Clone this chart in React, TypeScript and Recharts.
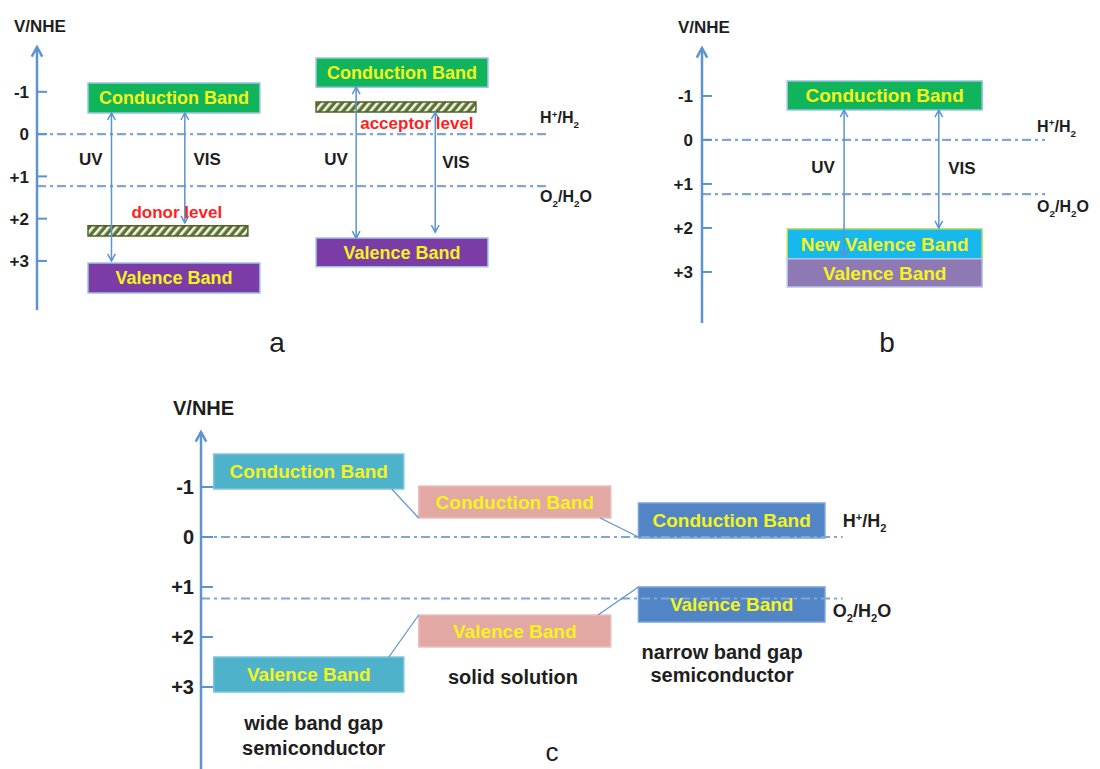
import React from "react";
import {
  ComposedChart,
  XAxis,
  YAxis,
  ReferenceArea,
  ReferenceLine,
  Scatter,
} from "recharts";

// potential scale (V vs NHE), drawn with positive values downwards
const POTENTIAL_TICKS = [-1, 0, 1, 2, 3];
const TICK_LABELS = ["-1", "0", "+1", "+2", "+3"];
const H_LEVEL = 0; // H+/H2
const O_LEVEL = 1.23; // O2/H2O

// horizontal position is in arbitrary units 0..100 across each panel

// ---- panel a : doping levels ----
const bandsA = [
  { name: "Conduction Band", kind: "green", from: 8.9, to: 38.9, top: -1.21, bottom: -0.5 },
  { name: "Valence Band", kind: "purple", from: 8.9, to: 38.9, top: 3.05, bottom: 3.76 },
  { name: "Conduction Band", kind: "green", from: 48.7, to: 78.7, top: -1.8, bottom: -1.11 },
  { name: "Valence Band", kind: "purple", from: 48.7, to: 78.7, top: 2.46, bottom: 3.14 },
];
const levelsA = [
  { from: 8.9, to: 36.8, top: 2.17, bottom: 2.41 },
  { from: 48.7, to: 76.6, top: -0.76, bottom: -0.52 },
];
const arrowsA = [
  { x: 13.0, from: -0.5, to: 3.0 },
  { x: 25.8, from: -0.5, to: 2.1 },
  { x: 55.7, from: -1.11, to: 2.46 },
  { x: 69.5, from: -0.52, to: 2.32 },
];
const lightLabelsA = [
  { x: 9.4, y: 0.59, text: "UV" },
  { x: 29.7, y: 0.59, text: "VIS" },
  { x: 52.2, y: 0.59, text: "UV" },
  { x: 73.1, y: 0.66, text: "VIS" },
];
const levelLabelsA = [
  { x: 24.4, y: 1.84, text: "donor level" },
  { x: 66.3, y: -0.26, text: "acceptor level" },
];
const redoxEndA = 89.5;
const redoxLabelsA = [
  { x: 87.8, y: -0.26, formula: "H" },
  { x: 87.8, y: 1.61, formula: "O" },
];

// ---- panel b : new valence band ----
const bandsB = [
  { name: "Conduction Band", kind: "green", from: 21.4, to: 70.4, top: -1.34, bottom: -0.68 },
  { name: "New Valence Band", kind: "sky", from: 21.4, to: 70.4, top: 2.02, bottom: 2.7 },
  { name: "Valence Band", kind: "lavender", from: 21.4, to: 70.4, top: 2.7, bottom: 3.34 },
];
const arrowsB = [
  { x: 35.7, from: -0.68, to: 2.66 },
  { x: 59.5, from: -0.68, to: 2.0 },
];
const lightLabelsB = [
  { x: 30.4, y: 0.61, text: "UV" },
  { x: 65.3, y: 0.64, text: "VIS" },
];
const redoxEndB = 86.2;
const redoxLabelsB = [
  { x: 84.2, y: -0.18, formula: "H" },
  { x: 84.2, y: 1.64, formula: "O" },
];

// ---- panel c : solid solution ----
const bandsC = [
  { name: "Conduction Band", kind: "teal", from: 1.8, to: 28.6, top: -1.66, bottom: -0.96 },
  { name: "Valence Band", kind: "teal", from: 1.8, to: 28.6, top: 2.4, bottom: 3.1 },
  { name: "Conduction Band", kind: "pink", from: 30.7, to: 57.8, top: -1.02, bottom: -0.38 },
  { name: "Valence Band", kind: "pink", from: 30.7, to: 57.8, top: 1.56, bottom: 2.2 },
  { name: "Conduction Band", kind: "blue", from: 61.7, to: 88.0, top: -0.68, bottom: 0.02 },
  { name: "Valence Band", kind: "blue", from: 61.7, to: 88.0, top: 1.0, bottom: 1.7 },
];
const connectorsC = [
  { x1: 26.9, y1: -0.96, x2: 30.7, y2: -0.38 },
  { x1: 56.3, y1: -0.38, x2: 61.7, y2: 0.0 },
  { x1: 26.5, y1: 2.4, x2: 30.7, y2: 1.56 },
  { x1: 56.0, y1: 1.56, x2: 61.7, y2: 1.0 },
];
const captionsC = [
  { x: 15.9, y: 3.72, text: "wide band gap" },
  { x: 15.9, y: 4.22, text: "semiconductor" },
  { x: 44.0, y: 2.8, text: "solid solution" },
  { x: 73.5, y: 2.3, text: "narrow band gap" },
  { x: 73.5, y: 2.76, text: "semiconductor" },
];
const redoxEndC = 90.5;
const redoxLabelsC = [
  { x: 90.5, y: -0.2, formula: "H" },
  { x: 89.1, y: 1.6, formula: "O" },
];

// sub/superscript pieces for the two redox couples
const FORMULAS: Record<string, [string, string][]> = {
  H: [["H", ""], ["+", "sup"], ["/H", ""], ["2", "sub"]],
  O: [["O", ""], ["2", "sub"], ["/H", ""], ["2", "sub"], ["O", ""]],
};

const FONT = "'Liberation Sans', Arial, Helvetica, sans-serif";
const AXIS_BLUE = "#5b93d3";
const DASH_BLUE = "#7fa6da";
const TEXT = "#1e1e1e";
const BAND_TEXT = "#f4f41c";

const FILLS: Record<string, { fill: string; stroke: string }> = {
  green: { fill: "#10b45a", stroke: "#9cc2e6" },
  purple: { fill: "#7c3ca6", stroke: "#9cc2e6" },
  sky: { fill: "#16b8ee", stroke: "#c8e05a" },
  lavender: { fill: "#8e79b4", stroke: "#b6c8e6" },
  teal: { fill: "#4eb2ca", stroke: "#7cc6da" },
  pink: { fill: "#e2a8a3", stroke: "#ecc0bc" },
  blue: { fill: "#5285c5", stroke: "#7aa2d6" },
};

function arrowHead(tx: number, ty: number, fx: number, fy: number, size: number) {
  const a = Math.atan2(ty - fy, tx - fx);
  const w = 0.5;
  const p1 = [tx - size * Math.cos(a - w), ty - size * Math.sin(a - w)];
  const p2 = [tx - size * Math.cos(a + w), ty - size * Math.sin(a + w)];
  return `${p1[0]},${p1[1]} ${tx},${ty} ${p2[0]},${p2[1]}`;
}

const arrowShape =
  (both: boolean, width: number, size: number) =>
  (p: any) => {
    const { x1, y1, x2, y2 } = p;
    return (
      <g>
        <line x1={x1} y1={y1} x2={x2} y2={y2} stroke={AXIS_BLUE} strokeWidth={width} />
        <polyline
          points={arrowHead(x2, y2, x1, y1, size)}
          fill="none"
          stroke={AXIS_BLUE}
          strokeWidth={width}
        />
        {both && (
          <polyline
            points={arrowHead(x1, y1, x2, y2, size)}
            fill="none"
            stroke={AXIS_BLUE}
            strokeWidth={width}
          />
        )}
      </g>
    );
  };

const makeTick = (gap: number, len: number, fontSize: number) => (p: any) => {
  const i = POTENTIAL_TICKS.indexOf(p.payload.value);
  const ax = p.x + gap;
  return (
    <g>
      <line x1={ax} x2={ax + len} y1={p.y} y2={p.y} stroke={AXIS_BLUE} strokeWidth={2} />
      <text
        x={p.x}
        y={p.y}
        dy="0.36em"
        textAnchor="end"
        fontSize={fontSize}
        fontWeight={700}
        fill={TEXT}
      >
        {TICK_LABELS[i]}
      </text>
    </g>
  );
};

const textShape =
  (fontSize: number, fill: string, weight = 700) =>
  (p: any) =>
    (
      <text
        x={p.cx}
        y={p.cy}
        dy="0.36em"
        textAnchor="middle"
        fontSize={fontSize}
        fontWeight={weight}
        fill={fill}
      >
        {p.payload.text}
      </text>
    );

const formulaShape = (fontSize: number) => (p: any) => {
  const parts = FORMULAS[p.payload.formula];
  let cur = 0;
  return (
    <text x={p.cx} y={p.cy} dy="0.36em" fontSize={fontSize} fontWeight={700} fill={TEXT}>
      {parts.map(([t, k], i) => {
        const target = k === "sup" ? -fontSize * 0.35 : k === "sub" ? fontSize * 0.3 : 0;
        const dy = target - cur;
        cur = target;
        return (
          <tspan key={i} dy={dy} fontSize={k ? fontSize * 0.62 : fontSize}>
            {t}
          </tspan>
        );
      })}
    </text>
  );
};

type PanelProps = {
  width: number;
  height: number;
  top: number;
  bottom: number;
  axisWidth: number;
  domain: [number, number];
  tickGap: number;
  tickLen: number;
  tickFont: number;
  bandFont: number;
  redoxFont: number;
  bands: typeof bandsA;
  redoxEnd: number;
  redoxLabels: typeof redoxLabelsA;
  children?: React.ReactNode;
  extra?: (k: string) => React.ReactNode;
};

function Panel(props: PanelProps) {
  const { domain } = props;
  return (
    <ComposedChart
      width={props.width}
      height={props.height}
      margin={{ top: props.top, right: 0, bottom: props.bottom, left: 0 }}
    >
      <XAxis type="number" dataKey="x" domain={[0, 100]} hide />
      <YAxis
        type="number"
        dataKey="y"
        domain={domain}
        reversed
        ticks={POTENTIAL_TICKS}
        interval={0}
        width={props.axisWidth}
        axisLine={false}
        tickLine={false}
        tickSize={0}
        tickMargin={props.tickGap}
        tick={makeTick(props.tickGap, props.tickLen, props.tickFont)}
      />
      <ReferenceLine
        segment={[
          { x: 0, y: H_LEVEL },
          { x: props.redoxEnd, y: H_LEVEL },
        ]}
        stroke={DASH_BLUE}
        strokeWidth={2.2}
        strokeDasharray="9 4 3 4"
      />
      <ReferenceLine
        segment={[
          { x: 0, y: O_LEVEL },
          { x: props.redoxEnd, y: O_LEVEL },
        ]}
        stroke={DASH_BLUE}
        strokeWidth={2.2}
        strokeDasharray="9 4 3 4"
      />
      {props.extra && props.extra("below")}
      {props.bands.map((b, i) => (
        <ReferenceArea
          key={"band" + i}
          x1={b.from}
          x2={b.to}
          y1={b.top}
          y2={b.bottom}
          fill={FILLS[b.kind].fill}
          fillOpacity={1}
          stroke={FILLS[b.kind].stroke}
          strokeWidth={1.5}
          label={{
            value: b.name,
            position: "center",
            fill: BAND_TEXT,
            fontSize: props.bandFont,
            fontWeight: 700,
          }}
        />
      ))}
      {props.extra && props.extra("above")}
      <ReferenceLine
        segment={[
          { x: 0, y: domain[1] },
          { x: 0, y: domain[0] },
        ]}
        shape={arrowShape(false, 2.5, 11)}
      />
      <Scatter
        data={props.redoxLabels}
        shape={formulaShape(props.redoxFont)}
        isAnimationActive={false}
      />
      {props.children}
    </ComposedChart>
  );
}

export default function App() {
  return (
    <div
      style={{
        position: "absolute",
        left: 0,
        top: 0,
        width: 1100,
        height: 769,
        background: "#fff",
        fontFamily: FONT,
        overflow: "hidden",
      }}
    >
      <svg width={0} height={0} style={{ position: "absolute" }}>
        <defs>
          <pattern
            id="levelHatch"
            patternUnits="userSpaceOnUse"
            width={6}
            height={6}
            patternTransform="rotate(40)"
          >
            <rect width={6} height={6} fill="#5d7131" />
            <rect width={2.6} height={6} fill="#f2f6ea" />
          </pattern>
        </defs>
      </svg>

      <div style={{ position: "absolute", left: 0, top: 0 }}>
        <Panel
          width={610}
          height={360}
          top={47}
          bottom={50}
          axisWidth={37}
          domain={[-2.06, 4.16]}
          tickGap={8}
          tickLen={10}
          tickFont={17}
          bandFont={18}
          redoxFont={16}
          bands={bandsA}
          redoxEnd={redoxEndA}
          redoxLabels={redoxLabelsA}
          extra={(k) =>
            k === "below"
              ? levelsA.map((l, i) => (
                  <ReferenceArea
                    key={"lvl" + i}
                    x1={l.from}
                    x2={l.to}
                    y1={l.top}
                    y2={l.bottom}
                    fill="url(#levelHatch)"
                    fillOpacity={1}
                    stroke="#4f6228"
                    strokeWidth={1.5}
                  />
                ))
              : arrowsA.map((a, i) => (
                  <ReferenceLine
                    key={"arr" + i}
                    segment={[
                      { x: a.x, y: a.from },
                      { x: a.x, y: a.to },
                    ]}
                    shape={arrowShape(true, 1.5, 8)}
                  />
                ))
          }
        >
          <Scatter data={lightLabelsA} shape={textShape(17, TEXT)} isAnimationActive={false} />
          <Scatter data={levelLabelsA} shape={textShape(17, "#ff1f1f")} isAnimationActive={false} />
        </Panel>
      </div>

      <div style={{ position: "absolute", left: 640, top: 0 }}>
        <Panel
          width={460}
          height={360}
          top={48}
          bottom={37}
          axisWidth={62}
          domain={[-2.09, 4.16]}
          tickGap={9}
          tickLen={10}
          tickFont={17}
          bandFont={19}
          redoxFont={16}
          bands={bandsB}
          redoxEnd={redoxEndB}
          redoxLabels={redoxLabelsB}
          extra={(k) =>
            k === "above"
              ? arrowsB.map((a, i) => (
                  <ReferenceLine
                    key={"arr" + i}
                    segment={[
                      { x: a.x, y: a.from },
                      { x: a.x, y: a.to },
                    ]}
                    shape={arrowShape(true, 1.5, 8)}
                  />
                ))
              : null
          }
        >
          <Scatter data={lightLabelsB} shape={textShape(17, TEXT)} isAnimationActive={false} />
        </Panel>
      </div>

      <div style={{ position: "absolute", left: 150, top: 390 }}>
        <Panel
          width={760}
          height={379}
          top={42}
          bottom={0}
          axisWidth={51}
          domain={[-2.1, 4.64]}
          tickGap={7}
          tickLen={12}
          tickFont={20}
          bandFont={19}
          redoxFont={18}
          bands={bandsC}
          redoxEnd={redoxEndC}
          redoxLabels={redoxLabelsC}
          extra={(k) =>
            k === "below"
              ? connectorsC.map((c, i) => (
                  <ReferenceLine
                    key={"con" + i}
                    segment={[
                      { x: c.x1, y: c.y1 },
                      { x: c.x2, y: c.y2 },
                    ]}
                    stroke={AXIS_BLUE}
                    strokeWidth={1.2}
                  />
                ))
              : null
          }
        >
          <Scatter data={captionsC} shape={textShape(20, TEXT)} isAnimationActive={false} />
        </Panel>
      </div>

      <svg
        width={1100}
        height={769}
        style={{ position: "absolute", left: 0, top: 0, pointerEvents: "none" }}
      >
        <g fontWeight={700} fill={TEXT}>
          <text x={14} y={32} fontSize={17}>V/NHE</text>
          <text x={678} y={33} fontSize={17}>V/NHE</text>
          <text x={173} y={415} fontSize={20}>V/NHE</text>
        </g>
        <g fontSize={28} fill={TEXT} textAnchor="middle">
          <text x={277} y={352}>a</text>
          <text x={887} y={352}>b</text>
          <text x={552} y={761} fontSize={26}>c</text>
        </g>
      </svg>
    </div>
  );
}
